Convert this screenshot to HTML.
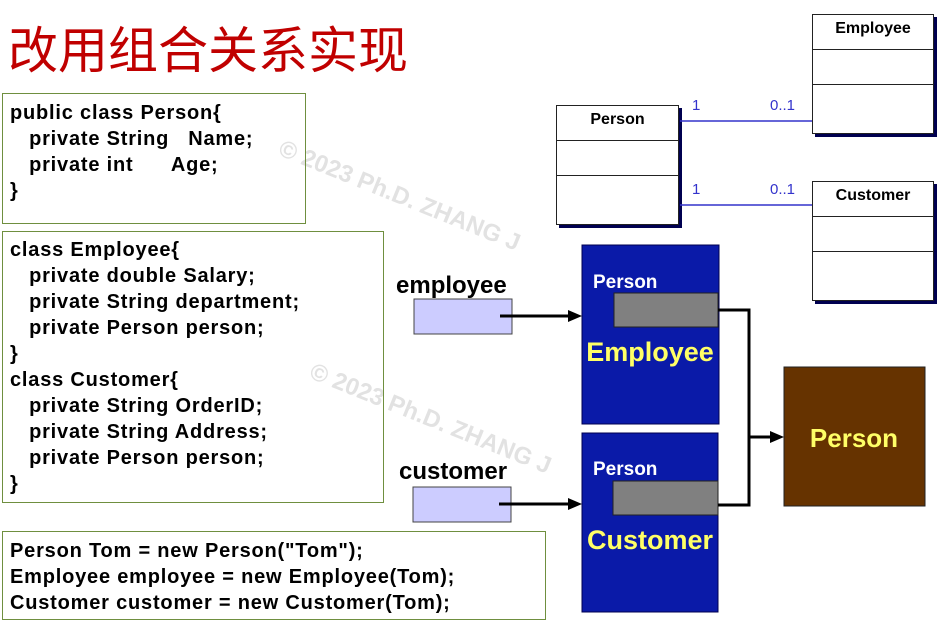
<!DOCTYPE html>
<html><head><meta charset="utf-8"><style>
body{margin:0;width:937px;height:634px;background:#fff;position:relative;overflow:hidden;font-family:"Liberation Sans",Arial,sans-serif;}
.a{position:absolute;}
.code{position:absolute;border:1px solid #6f8f3f;font-weight:bold;font-size:20px;letter-spacing:0.8px;line-height:26px;white-space:pre;box-sizing:border-box;padding-left:7px;color:#000;}
.uml{position:absolute;background:#fff;border:1px solid #222;box-shadow:3px 3px 0 #000050;box-sizing:border-box;}
.uml div{border-bottom:1px solid #222;box-sizing:border-box;height:35px;font-weight:bold;font-size:16px;text-align:center;line-height:28px;}
.uml div:last-child{border-bottom:none}
.wm{position:absolute;color:#e2e2e2;font-size:24px;font-weight:bold;transform:rotate(22deg);transform-origin:left top;white-space:nowrap;}
</style></head><body>
<div class="wm" style="left:285px;top:135px">© 2023 Ph.D. ZHANG J</div>
<div class="wm" style="left:316px;top:358px">© 2023 Ph.D. ZHANG J</div>
<div class="a" style="left:8px;top:17px;font-size:50px;color:#c00000;font-family:'Noto Sans CJK SC',sans-serif;line-height:60px">改用组合关系实现</div>
<div class="code" style="left:2px;top:93px;width:304px;height:131px;padding-top:6px">public class Person{
   private String   Name;
   private int      Age;
}</div>
<div class="code" style="left:2px;top:231px;width:382px;height:272px;padding-top:5px">class Employee{
   private double Salary;
   private String department;
   private Person person;
}
class Customer{
   private String OrderID;
   private String Address;
   private Person person;
}</div>
<div class="code" style="left:2px;top:531px;width:544px;height:89px;padding-top:6px">Person Tom = new Person("Tom");
Employee employee = new Employee(Tom);
Customer customer = new Customer(Tom);</div>

<div class="uml" style="left:556px;top:105px;width:123px;height:120px"><div>Person</div><div></div><div></div></div>
<div class="uml" style="left:812px;top:14px;width:122px;height:120px"><div>Employee</div><div></div><div></div></div>
<div class="uml" style="left:812px;top:181px;width:122px;height:120px"><div>Customer</div><div></div><div></div></div>

<svg class="a" style="left:0;top:0" width="937" height="634">
<g stroke="#3333cc" stroke-width="1.5"><line x1="680" y1="121" x2="812" y2="121"/><line x1="680" y1="205" x2="812" y2="205"/></g>
<g fill="#3333cc" font-size="15" font-family="Liberation Sans"><text x="692" y="110">1</text><text x="770" y="110">0..1</text><text x="692" y="194">1</text><text x="770" y="194">0..1</text></g>
<rect x="582" y="245" width="137" height="179" fill="#0a1aa8" stroke="#000050"/>
<rect x="582" y="433" width="136" height="179" fill="#0a1aa8" stroke="#000050"/>
<rect x="614" y="293" width="104" height="34" fill="#808080" stroke="#222"/>
<rect x="613" y="481" width="105" height="34" fill="#808080" stroke="#222"/>
<rect x="784" y="367" width="141" height="139" fill="#663300" stroke="#222"/>
<rect x="414" y="299" width="98" height="35" fill="#ccccff" stroke="#444"/>
<rect x="413" y="487" width="98" height="35" fill="#ccccff" stroke="#444"/>
<g stroke="#000" stroke-width="3" fill="none">
<line x1="500" y1="316" x2="570" y2="316"/><line x1="499" y1="504" x2="570" y2="504"/>
<polyline points="718,310 749,310 749,505 718,505"/><line x1="749" y1="437" x2="772" y2="437"/></g>
<g fill="#000"><polygon points="568,310 582,316 568,322"/><polygon points="568,498 582,504 568,510"/><polygon points="770,431 784,437 770,443"/></g>
<g font-family="Liberation Sans" font-weight="bold">
<text x="593" y="288" fill="#fff" font-size="19">Person</text>
<text x="593" y="475" fill="#fff" font-size="19">Person</text>
<text x="650" y="361" fill="#ffff66" font-size="27" text-anchor="middle">Employee</text>
<text x="650" y="549" fill="#ffff66" font-size="27" text-anchor="middle">Customer</text>
<text x="854" y="447" fill="#ffff66" font-size="26" text-anchor="middle">Person</text>
<text x="396" y="293" fill="#000" font-size="24">employee</text>
<text x="399" y="479" fill="#000" font-size="24">customer</text>
</g>
</svg>
</body></html>
